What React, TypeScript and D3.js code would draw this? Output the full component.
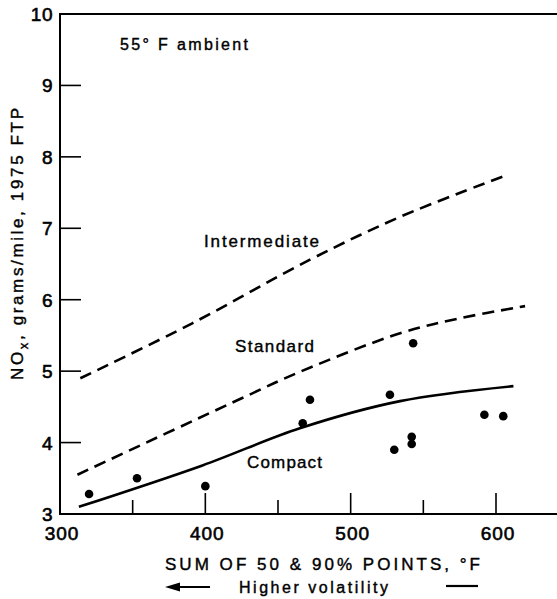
import React from "react";
import * as d3 from "d3";

const W = 557;
const H = 599;

// Curves (sum of 50 & 90% points °F, NOx g/mile)
const intermediateX = [314, 391, 472, 534, 608];
const intermediateY = [4.9, 5.67, 6.56, 7.16, 7.75];
const standardX = [312, 425, 465, 534, 575, 620];
const standardY = [3.55, 4.62, 4.99, 5.53, 5.74, 5.91];
const compactX = [313, 398, 465, 534, 612];
const compactY = [3.1, 3.68, 4.2, 4.58, 4.79];

// Measured points
const pointX = [320, 353, 400, 467, 472, 527, 543, 542, 542, 530, 592, 605];
const pointY = [3.28, 3.5, 3.39, 4.27, 4.6, 4.67, 5.39, 4.08, 3.98, 3.9, 4.39, 4.37];

const xTickLabels = [300, 400, 500, 600];
const xMinorTicks = [350, 450, 550];
const yTickLabels = [3, 4, 5, 6, 7, 8, 9, 10];

const FONT = "'Liberation Sans', Arial, sans-serif";

export default function App() {
  const x = d3.scaleLinear().domain([300, 600]).range([60, 496]);
  const y = d3.scaleLinear().domain([3, 10]).range([514, 14]);

  const line = d3
    .line<[number, number]>()
    .x((d) => x(d[0]))
    .y((d) => y(d[1]))
    .curve(d3.curveCatmullRom.alpha(0.5));

  const zip = (a: number[], b: number[]) => a.map((v, i) => [v, b[i]] as [number, number]);

  return (
    <svg width={W} height={H} style={{ position: "absolute", left: 0, top: 0, background: "#fff" }}>
      <g fontFamily={FONT} fill="#000">
        {/* frame */}
        <line x1={x(300)} x2={x(300)} y1={y(10)} y2={y(3)} stroke="#000" strokeWidth={2} />
        <line x1={x(300) - 1} x2={W} y1={y(10)} y2={y(10)} stroke="#000" strokeWidth={2} />
        <line x1={x(300) - 1} x2={W} y1={y(3)} y2={y(3)} stroke="#000" strokeWidth={2} />

        {/* y ticks */}
        {yTickLabels.slice(1, -1).map((v) => (
          <line key={"yt" + v} x1={x(300)} x2={x(300) + 21} y1={y(v)} y2={y(v)} stroke="#000" strokeWidth={1.6} />
        ))}
        <g stroke="#000" strokeWidth={0.6}>
          {yTickLabels.map((v) => (
            <text key={"yl" + v} x={53} y={y(v) + 7} textAnchor="end" fontSize={19} letterSpacing={0.5}>
              {v}
            </text>
          ))}
        </g>

        {/* x ticks */}
        {xTickLabels.slice(1).map((v) => (
          <line key={"xt" + v} x1={x(v)} x2={x(v)} y1={y(3)} y2={y(3) - 21} stroke="#000" strokeWidth={1.6} />
        ))}
        {xMinorTicks.map((v) => (
          <line key={"xm" + v} x1={x(v)} x2={x(v)} y1={y(3)} y2={y(3) - 14} stroke="#000" strokeWidth={1.6} />
        ))}
        <g stroke="#000" strokeWidth={0.6}>
          {xTickLabels.map((v) => (
            <text key={"xl" + v} x={x(v) + 2} y={540} textAnchor="middle" fontSize={19} letterSpacing={1}>
              {v}
            </text>
          ))}
        </g>

        {/* curves */}
        <path d={line(zip(intermediateX, intermediateY)) || ""} fill="none" stroke="#000" strokeWidth={2.6} strokeDasharray="12 7" />
        <path d={line(zip(standardX, standardY)) || ""} fill="none" stroke="#000" strokeWidth={2.6} strokeDasharray="12 7" />
        <path d={line(zip(compactX, compactY)) || ""} fill="none" stroke="#000" strokeWidth={2.6} />

        {/* points */}
        {pointX.map((v, i) => (
          <circle key={"p" + i} cx={x(v)} cy={y(pointY[i])} r={4.3} fill="#000" />
        ))}

        <g stroke="#000" strokeWidth={0.4}>
          {/* curve labels */}
          <text x={204} y={247} fontSize={17} textLength={115} lengthAdjust="spacing">Intermediate</text>
          <text x={235} y={352} fontSize={17} textLength={79} lengthAdjust="spacing">Standard</text>
          <text x={247} y={468} fontSize={17} textLength={75} lengthAdjust="spacing">Compact</text>
          <text x={120} y={50} fontSize={16} textLength={128} lengthAdjust="spacing">55° F ambient</text>

          {/* y axis title */}
          <text transform="translate(23,244) rotate(-90)" textAnchor="middle" fontSize={17} textLength={272} lengthAdjust="spacing">
            NO<tspan fontSize={13} dy={5}>x</tspan><tspan dy={-5}>, grams/mile, 1975 FTP</tspan>
          </text>

          {/* x axis title */}
          <text x={165} y={570} fontSize={17} textLength={315} lengthAdjust="spacing">SUM OF 50 &amp; 90% POINTS, °F</text>

          <text x={239} y={593} fontSize={16} textLength={149} lengthAdjust="spacing">Higher volatility</text>
        </g>

        {/* volatility arrow */}
        <line x1={176} x2={210} y1={587} y2={587} stroke="#000" strokeWidth={2.2} />
        <path d="M165,587 L180,582.5 L180,591.5 Z" fill="#000" />
        <line x1={446} x2={478} y1={586} y2={586} stroke="#000" strokeWidth={2.2} />
      </g>
    </svg>
  );
}
